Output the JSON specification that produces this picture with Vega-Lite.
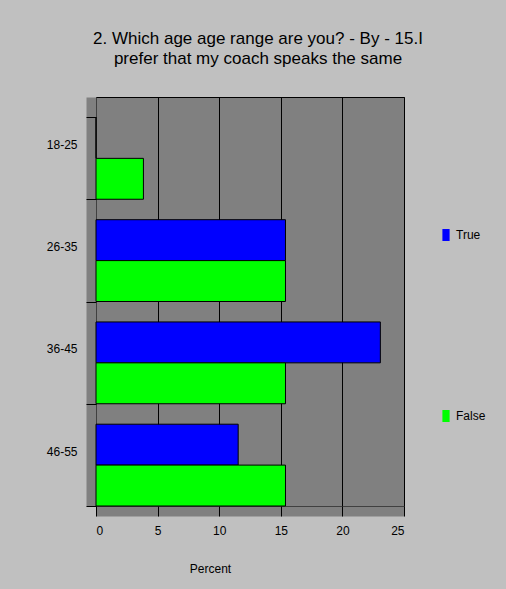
{
  "$schema": "https://vega.github.io/schema/vega-lite/v6.json",
  "width": 308,
  "height": 409,
  "autosize": {"type": "none"},
  "padding": {"left": 96, "top": 97, "right": 102, "bottom": 83},
  "background": "#C0C0C0",
  "title": {
    "text": ["2. Which age age range are you? - By - 15.I", "prefer that my coach speaks the same"],
    "font": "Liberation Sans",
    "fontSize": 17,
    "fontWeight": "normal",
    "color": "#000000",
    "anchor": "middle",
    "dx": 8,
    "offset": 23,
    "lineHeight": 20
  },
  "config": {
    "view": {"fill": "#808080", "stroke": "#000000", "strokeWidth": 1},
    "font": "Liberation Sans"
  },
  "data": {
    "values": [
      {"age": "18-25", "answer": "True", "percent": 0},
      {"age": "18-25", "answer": "False", "percent": 3.85},
      {"age": "26-35", "answer": "True", "percent": 15.38},
      {"age": "26-35", "answer": "False", "percent": 15.38},
      {"age": "36-45", "answer": "True", "percent": 23.08},
      {"age": "36-45", "answer": "False", "percent": 15.38},
      {"age": "46-55", "answer": "True", "percent": 11.54},
      {"age": "46-55", "answer": "False", "percent": 15.38}
    ]
  },
  "resolve": {"axis": {"x": "independent", "y": "independent"}},
  "layer": [
    {
      "mark": {"type": "bar", "opacity": 0},
      "encoding": {
        "y": {
          "field": "age",
          "type": "nominal",
          "sort": ["18-25", "26-35", "36-45", "46-55"],
          "scale": {"paddingInner": 0.2, "paddingOuter": 0.1, "align": 1},
          "axis": {
            "orient": "left",
            "title": null,
            "labels": false,
            "ticks": false,
            "grid": false,
            "offset": 5,
            "domainColor": "#808080",
            "domainWidth": 10
          }
        },
        "yOffset": {"field": "answer", "type": "nominal", "sort": ["True", "False"]},
        "x": {
          "field": "percent",
          "type": "quantitative",
          "scale": {"domain": [0, 25], "nice": false},
          "axis": {
            "orient": "bottom",
            "title": null,
            "labels": false,
            "ticks": false,
            "values": [0, 5, 10, 15, 20, 25],
            "offset": 5,
            "domainColor": "#808080",
            "domainWidth": 10,
            "grid": true,
            "gridColor": "#000000",
            "gridOpacity": 1,
            "gridWidth": 1
          }
        }
      }
    },
    {
      "mark": {"type": "bar", "stroke": "#000000", "strokeWidth": 1},
      "encoding": {
        "y": {
          "field": "age",
          "type": "nominal",
          "sort": ["18-25", "26-35", "36-45", "46-55"],
          "axis": {
            "orient": "left",
            "title": null,
            "domain": false,
            "labelFont": "Liberation Sans",
            "labelFontSize": 12,
            "labelColor": "#000000",
            "labelOffset": -14,
            "labelPadding": 9,
            "tickBand": "extent",
            "tickSize": 10,
            "tickColor": "#000000"
          }
        },
        "yOffset": {"field": "answer", "type": "nominal", "sort": ["True", "False"]},
        "x": {
          "field": "percent",
          "type": "quantitative",
          "axis": {
            "orient": "bottom",
            "zindex": 1,
            "title": "Percent",
            "titleFont": "Liberation Sans",
            "titleFontSize": 12,
            "titleFontWeight": "normal",
            "titleColor": "#000000",
            "titleX": 114,
            "titleY": 57,
            "values": [0, 5, 10, 15, 20, 25],
            "domain": false,
            "grid": false,
            "labelFont": "Liberation Sans",
            "labelFontSize": 12,
            "labelColor": "#000000",
            "labelPadding": 9,
            "tickSize": 10,
            "tickColor": "#000000"
          }
        },
        "color": {
          "field": "answer",
          "type": "nominal",
          "scale": {"domain": ["True", "False"], "range": ["#0000FF", "#00FF00"]},
          "legend": {
            "title": null,
            "orient": "none",
            "legendX": 344,
            "legendY": 132,
            "symbolType": "M-0.6,-1H0.6V1H-0.6Z",
            "symbolSize": 144,
            "symbolStrokeWidth": 0,
            "labelFont": "Liberation Sans",
            "labelFontSize": 12,
            "labelColor": "#000000",
            "rowPadding": 169
          }
        }
      }
    }
  ]
}
